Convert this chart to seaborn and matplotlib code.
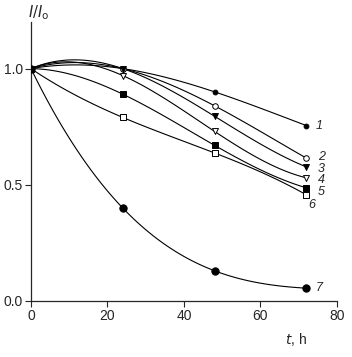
import numpy as np
import pandas as pd
import matplotlib
matplotlib.use("Agg")
import matplotlib.pyplot as plt
import seaborn as sns

# time points (h) and relative intensity I/I0 per curve
hours = [0, 24, 48, 72]
curve_labels = ["1", "2", "3", "4", "5", "6", "7"]
curve_values = [
    [1.0, 1.0, 0.90, 0.755],
    [1.0, 1.0, 0.84, 0.615],
    [1.0, 1.0, 0.795, 0.577],
    [1.0, 0.97, 0.73, 0.53],
    [1.0, 0.89, 0.67, 0.487],
    [1.0, 0.79, 0.637, 0.457],
    [1.0, 0.40, 0.13, 0.055],
]
markers = ["o", "o", "v", "v", "s", "s", "o"]
filled = [True, False, True, False, True, False, True]
msizes = [12, 16, 18, 18, 14, 14, 28]

rows = []
for lab, vals in zip(curve_labels, curve_values):
    for t, v in zip(hours, vals):
        rows.append({"t": t, "I": v, "curve": lab})
df = pd.DataFrame(rows)

sns.set_style("ticks")
plt.rcParams["font.family"] = ["Liberation Sans", "DejaVu Sans"]

fig = plt.figure(figsize=(3.52, 3.57), dpi=100)
ax = fig.add_axes([0.088, 0.157, 0.869, 0.781])

for i, lab in enumerate(curve_labels):
    sub = df[df["curve"] == lab]
    sns.regplot(data=sub, x="t", y="I", order=3, ci=None, scatter=False,
                ax=ax, line_kws={"color": "black", "lw": 0.8})
    sns.scatterplot(data=sub, x="t", y="I", marker=markers[i], s=msizes[i],
                    color="black" if filled[i] else "white",
                    edgecolor="black", linewidth=0.7, ax=ax, zorder=3)

# curve numbers at the right end
label_y = [0.755, 0.62, 0.57, 0.52, 0.47, 0.415, 0.055]
label_x = [74.5, 75.0, 75.0, 75.0, 75.0, 72.5, 74.5]
for lab, x, y in zip(curve_labels, label_x, label_y):
    ax.text(x, y, lab, fontsize=9, style="italic", va="center", ha="left")

ax.set_xlim(0, 80)
ax.set_ylim(0, 1.2)
ax.set_xticks([0, 20, 40, 60, 80])
ax.set_yticks([0.0, 0.5, 1.0])
ax.set_yticklabels(["0.0", "0.5", "1.0"])
ax.tick_params(labelsize=10, length=4, width=0.8, direction="out", pad=2)
for s in ["top", "right"]:
    ax.spines[s].set_visible(False)
for s in ["left", "bottom"]:
    ax.spines[s].set_linewidth(0.9)
ax.set_xlabel("")
ax.set_ylabel("")

fig.text(0.84, 0.048, "$t$, h", fontsize=10, ha="center", va="center",
         math_fontfamily="dejavusans")
fig.text(0.11, 0.965, "$I/I_\\mathrm{o}$", fontsize=10.5, ha="center", va="center",
         math_fontfamily="dejavusans")

fig.savefig("out.png", dpi=100)
